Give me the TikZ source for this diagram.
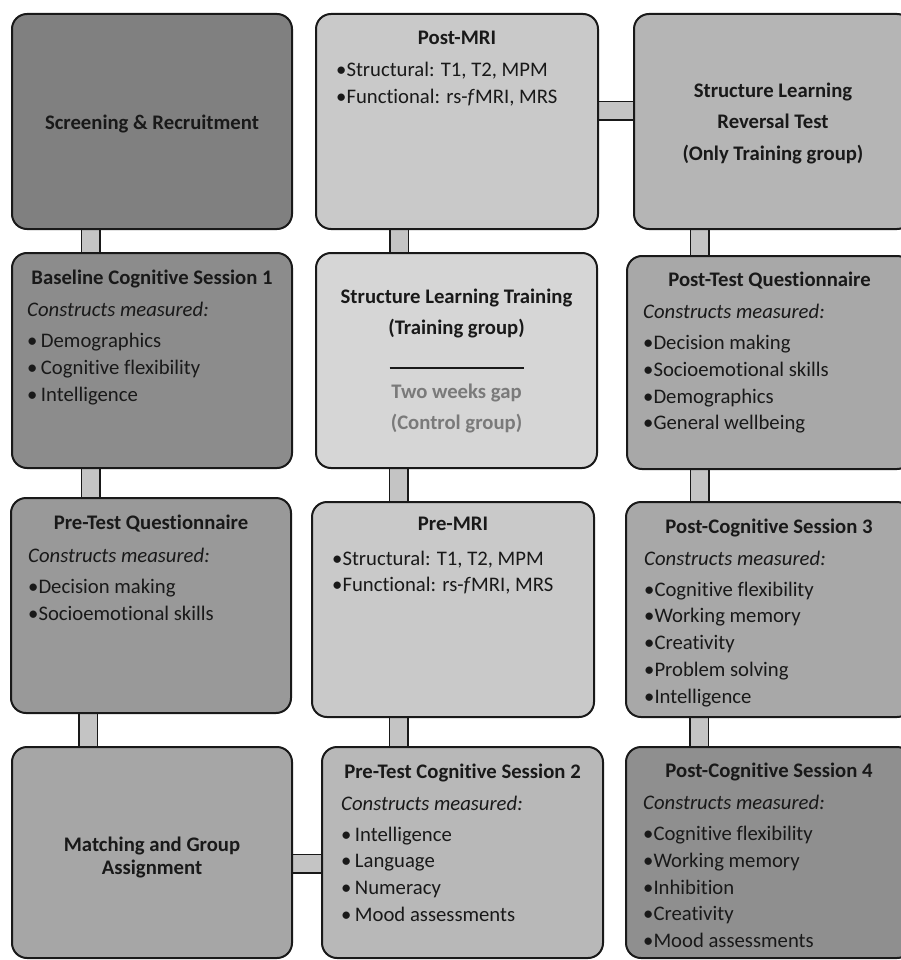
\documentclass[tikz,border=0pt]{standalone}
\usepackage{fontspec}
\setmainfont{Carlito}[Ligatures=NoCommon]
\usepackage{tikz}
\usetikzlibrary{backgrounds}

\definecolor{scrfill}{gray}{0.50}
\definecolor{blfill}{gray}{0.55}
\definecolor{preqfill}{gray}{0.60}
\definecolor{matchfill}{gray}{0.65}
\definecolor{postmrifill}{gray}{0.79}
\definecolor{trainfill}{gray}{0.84}
\definecolor{premrifill}{gray}{0.79}
\definecolor{precogfill}{gray}{0.72}
\definecolor{revfill}{gray}{0.71}
\definecolor{postqfill}{gray}{0.66}
\definecolor{pcthreefill}{gray}{0.66}
\definecolor{pcfourfill}{gray}{0.56}
\definecolor{barfill}{gray}{0.77}
\definecolor{ink}{gray}{0.10}
\definecolor{gapgray}{gray}{0.48}

\newcommand{\bul}{\textbullet}

\begin{document}
\begin{tikzpicture}[x=1pt, y=-1pt,
    phase/.style={draw=ink, line width=2pt, rounded corners=15pt, inner sep=0pt},
    ttl/.style={font=\bfseries\fontsize{20.7}{26}\selectfont, text=ink, inner sep=0pt, anchor=base},
    lst/.style={font=\fontsize{20.7}{26.7}\selectfont, text=ink, align=left, inner sep=0pt, anchor=north west},
    bar/.style={draw=ink, double=barfill, double distance=17pt, line width=1.5pt}]
    \useasboundingbox (0,0) rectangle (901,960);

    % left column
    \node[phase, fill=scrfill, minimum width=280pt, minimum height=215pt]   (scr)   at (152,121.5) {};
    \node[phase, fill=blfill, minimum width=280pt, minimum height=215pt]    (bl)    at (152,360.5) {};
    \node[phase, fill=preqfill, minimum width=280pt, minimum height=215pt]  (preq)  at (151,605.5) {};
    \node[phase, fill=matchfill, minimum width=280pt, minimum height=211pt] (match) at (152,852.5) {};
    % middle column
    \node[phase, fill=postmrifill, minimum width=282pt, minimum height=215pt] (postmri) at (457,121.5) {};
    \node[phase, fill=trainfill, minimum width=281pt, minimum height=215pt]   (train)   at (456.5,360.5) {};
    \node[phase, fill=premrifill, minimum width=282pt, minimum height=215pt]  (premri)  at (453,609.5) {};
    \node[phase, fill=precogfill, minimum width=281pt, minimum height=211pt]  (precog)  at (462.5,852.5) {};
    % right column
    \node[phase, fill=revfill, minimum width=278pt, minimum height=215pt]     (rev)    at (773,121.5) {};
    \node[phase, fill=postqfill, minimum width=285pt, minimum height=213pt]   (postq)  at (769.5,362.5) {};
    \node[phase, fill=pcthreefill, minimum width=286pt, minimum height=215pt] (pcthree) at (769,609.5) {};
    \node[phase, fill=pcfourfill, minimum width=286pt, minimum height=211pt]  (pcfour) at (769,852.5) {};

    \begin{scope}[on background layer]
    \draw[bar] ([xshift=79.5pt]scr.south west) -- ([xshift=79.5pt]scr.south west |- bl.north);
    \draw[bar] ([xshift=79.5pt]bl.south west) -- ([xshift=79.5pt]bl.south west |- preq.north);
    \draw[bar] ([xshift=78pt]preq.south west) -- ([xshift=78pt]preq.south west |- match.north);
    \draw[bar] ([yshift=-11pt]match.east) -- ([yshift=-11pt]match.east -| precog.west);
    \draw[bar] ([xshift=77.5pt]precog.north west) -- ([xshift=77.5pt]precog.north west |- premri.south);
    \draw[bar] ([xshift=87.5pt]premri.north west) -- ([xshift=87.5pt]premri.north west |- train.south);
    \draw[bar] ([xshift=84pt]train.north west) -- ([xshift=84pt]train.north west |- postmri.south);
    \draw[bar] ([yshift=10.5pt]postmri.east) -- ([yshift=10.5pt]postmri.east -| rev.west);
    \draw[bar] ([xshift=66.5pt]rev.south west) -- ([xshift=66.5pt]rev.south west |- postq.north);
    \draw[bar] ([xshift=73.5pt]postq.south west) -- ([xshift=73.5pt]postq.south west |- pcthree.north);
    \draw[bar] ([xshift=74pt]pcthree.south west) -- ([xshift=74pt]pcthree.south west |- pcfour.north);
    \end{scope}

    % texts
    \node[ttl, anchor=center] (scrT) at ([yshift=-2pt]scr.center) {Screening \& Recruitment};

    \node[ttl] (blT) at ([yshift=-32.5pt]bl.north) {Baseline Cognitive Session 1};
    \node[lst] (blL) at ([xshift=16pt,yshift=-49.5pt]bl.north west)
        {\textit{Constructs measured:}\\[5pt]\bul\,Demographics\\\bul\,Cognitive flexibility\\\bul\,Intelligence};

    \node[ttl] (preqT) at ([yshift=-32pt]preq.north) {Pre-Test Questionnaire};
    \node[lst] (preqL) at ([xshift=18pt,yshift=-50.5pt]preq.north west)
        {\textit{Constructs measured:}\\[5pt]\bul Decision making\\\bul Socioemotional skills};

    \node[ttl, anchor=center, align=center, font=\bfseries\fontsize{20.7}{23}\selectfont] (matchT) at ([yshift=-4.5pt]match.center)
        {Matching and Group\\Assignment};

    \node[ttl] (postmriT) at ([yshift=-31.5pt]postmri.north) {Post-MRI};
    \node[lst] (postmriL) at ([xshift=21pt,yshift=-49pt]postmri.north west)
        {\bul Structural: T1, T2, MPM\\\bul Functional: rs-\textit{f}MRI, MRS};

    \node[ttl, anchor=center, align=center, font=\bfseries\fontsize{20.7}{31.7}\selectfont] (trainT) at ([yshift=-0.5pt]train.center)
        {Structure Learning Training\\(Training group)\\\rule[-2pt]{134pt}{1.2pt}\\
         \textcolor{gapgray}{Two weeks gap}\\\textcolor{gapgray}{(Control group)}};

    \node[ttl] (premriT) at ([yshift=-29.5pt]premri.north) {Pre-MRI};
    \node[lst] (premriL) at ([xshift=21pt,yshift=-49.5pt]premri.north west)
        {\bul Structural: T1, T2, MPM\\\bul Functional: rs-\textit{f}MRI, MRS};

    \node[ttl] (precogT) at ([yshift=-32pt]precog.north) {Pre-Test Cognitive Session 2};
    \node[lst] (precogL) at ([xshift=20pt,yshift=-49.5pt]precog.north west)
        {\textit{Constructs measured:}\\[4.5pt]\bul\,Intelligence\\\bul\,Language\\\bul\,Numeracy\\\bul\,Mood assessments};

    \node[ttl, anchor=center, align=center, font=\bfseries\fontsize{20.7}{31.5}\selectfont] (revT) at ([yshift=-1.5pt]rev.center)
        {Structure Learning\\Reversal Test\\(Only Training group)};

    \node[ttl] (postqT) at ([yshift=-31.5pt]postq.north) {Post-Test Questionnaire};
    \node[lst] (postqL) at ([xshift=17pt,yshift=-49pt]postq.north west)
        {\textit{Constructs measured:}\\[4.5pt]\bul Decision making\\\bul Socioemotional skills\\\bul Demographics\\\bul General wellbeing};

    \node[ttl] (pcthreeT) at ([yshift=-32.5pt]pcthree.north) {Post-Cognitive Session 3};
    \node[lst] (pcthreeL) at ([xshift=19pt,yshift=-49.5pt]pcthree.north west)
        {\textit{Constructs measured:}\\[4.5pt]\bul Cognitive flexibility\\\bul Working memory\\\bul Creativity\\\bul Problem solving\\\bul Intelligence};

    \node[ttl] (pcfourT) at ([yshift=-31pt]pcfour.north) {Post-Cognitive Session 4};
    \node[lst] (pcfourL) at ([xshift=18pt,yshift=-49pt]pcfour.north west)
        {\textit{Constructs measured:}\\[4.5pt]\bul Cognitive flexibility\\\bul Working memory\\\bul Inhibition\\\bul Creativity\\\bul Mood assessments};
\end{tikzpicture}
\end{document}
